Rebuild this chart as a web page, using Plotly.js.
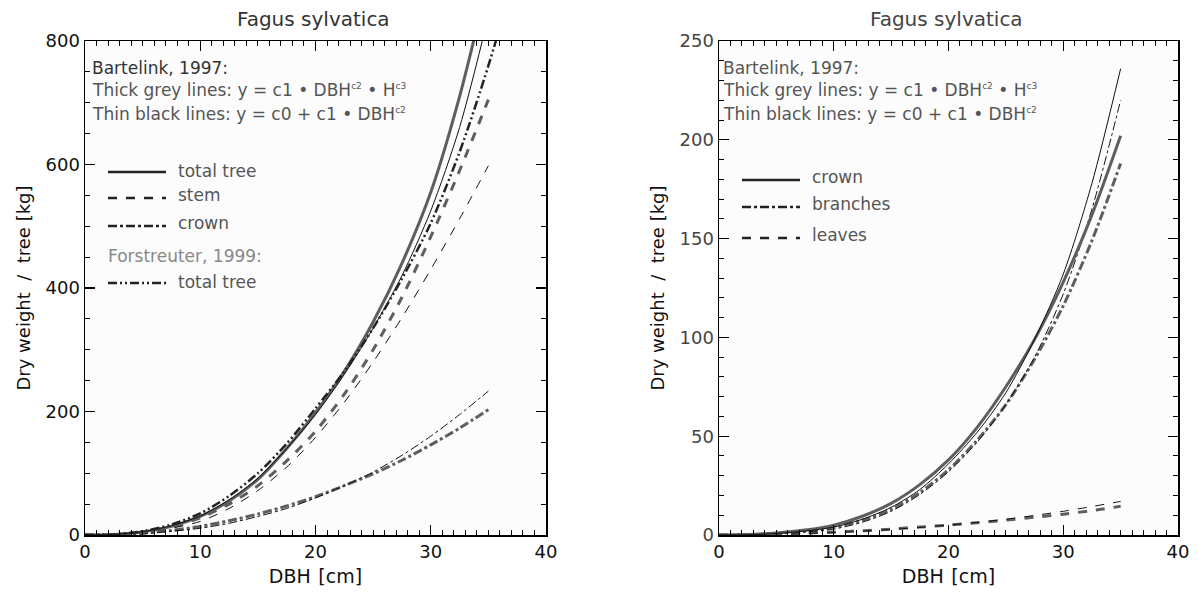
<!DOCTYPE html>
<html>
<head>
<meta charset="utf-8">
<script src="https://cdn.plot.ly/plotly-3.0.1.min.js"></script>
<style>html,body{margin:0;padding:0;background:#fff;}#chart{width:1199px;height:595px;}</style>
</head>
<body>
<div id="chart"></div>
<script>
// DBH values (cm)
const dbh = [0, 2.5, 5, 7.5, 10, 12.5, 15, 17.5, 20, 22.5, 25, 27.5, 30, 32.5, 35];
const dbhForst = [0, 2.5, 5, 7.5, 10, 12.5, 15, 17.5, 20, 22.5, 25, 27.5, 30, 32.5, 35, 37.5];

// Left panel: Bartelink 1997 (tree compartments), kg
const totalThick = [0, 0.8, 5, 14, 30, 55, 90, 140, 198, 265, 345, 440, 555, 710, 900];
const totalThin  = [0, 0.9, 5.5, 15, 31, 57, 92, 140, 195, 260, 335, 420, 525, 660, 840];
const stemThick  = [0, 0.6, 5, 13, 28, 50, 80, 120, 168, 228, 300, 385, 483, 590, 705];
const stemThin   = [0, 0.5, 4, 11, 22, 43, 72, 110, 158, 215, 280, 352, 430, 512, 598];
const crownThick = [0, 0.4, 3, 7.5, 14, 23, 34, 47, 62, 80, 99, 121, 146, 173, 203];
const crownThin  = [0, 0.3, 2, 6, 11, 19, 30, 43, 60, 80, 102, 129, 160, 195, 233];
// Forstreuter 1999 total tree
const forstTotal = [0, 1, 6, 17, 35, 63, 100, 148, 205, 265, 335, 415, 505, 620, 760, 920];

// Right panel: crown compartments, kg
const crownThinR    = [0, 0.1, 0.8, 2, 4, 8, 14, 23, 36, 52, 72, 99, 132, 178, 236];
const crownThickR   = [0, 0.2, 1, 2.5, 5, 9.5, 16, 25.5, 38, 54.5, 75, 99, 128, 162, 202];
const branchThinR   = [0, 0.1, 0.6, 1.5, 3, 6.5, 12, 20.5, 32, 47, 66, 90, 122, 165, 220];
const branchThickR  = [0, 0.1, 0.8, 2, 4, 7.5, 13, 21.5, 33, 48, 66, 89, 116, 149, 188];
const leavesThinR   = [0, 0.05, 0.3, 0.7, 1.2, 1.9, 2.8, 3.8, 5, 6.4, 8, 9.9, 12, 14.4, 17];
const leavesThickR  = [0, 0.08, 0.5, 1, 1.5, 2.2, 3, 4, 5, 6.2, 7.5, 9, 10.5, 12.4, 14.5];

// Tick values
const xTicks = [0, 10, 20, 30, 40];
const yTicksL = [0, 200, 400, 600, 800];
const yTicksR = [0, 50, 100, 150, 200, 250];

const THICK = {color: '#5e5e5e', width: 3};
const THIN = {color: '#111', width: 1};
const DDD = '9px,3px,2px,3px,2px,3px';

function tr(x, y, xa, ya, base, dash) {
  return {x: x, y: y, xaxis: xa, yaxis: ya, type: 'scatter', mode: 'lines',
    line: Object.assign({}, base, {dash: dash, shape: 'spline', smoothing: 0.8}),
    showlegend: false, hoverinfo: 'skip'};
}

const data = [
  tr(dbh, crownThick, 'x', 'y', THICK, 'dashdot'),
  tr(dbh, crownThin, 'x', 'y', THIN, 'dashdot'),
  tr(dbh, stemThick, 'x', 'y', THICK, 'dash'),
  tr(dbh, stemThin, 'x', 'y', THIN, 'dash'),
  tr(dbh, totalThick, 'x', 'y', THICK, 'solid'),
  tr(dbh, totalThin, 'x', 'y', THIN, 'solid'),
  tr(dbhForst, forstTotal, 'x', 'y', {color: '#222', width: 2.5}, DDD),
  tr(dbh, leavesThickR, 'x2', 'y2', THICK, 'dash'),
  tr(dbh, leavesThinR, 'x2', 'y2', THIN, 'dash'),
  tr(dbh, branchThickR, 'x2', 'y2', THICK, 'dashdot'),
  tr(dbh, branchThinR, 'x2', 'y2', THIN, 'dashdot'),
  tr(dbh, crownThickR, 'x2', 'y2', THICK, 'solid'),
  tr(dbh, crownThinR, 'x2', 'y2', THIN, 'solid')
];

const FONT = 'DejaVu Sans, Verdana, sans-serif';
function xax(domain, anchor) {
  return {domain: domain, anchor: anchor, range: [0, 40], tickvals: xTicks,
    ticks: 'inside', ticklen: 10, tickwidth: 1.3, tickcolor: '#000',
    minor: {dtick: 1, ticks: 'inside', ticklen: 5, tickwidth: 1, tickcolor: '#000'},
    showline: true, linecolor: '#000', linewidth: 1.5, mirror: 'ticks',
    showgrid: false, zeroline: false, fixedrange: true,
    tickfont: {family: FONT, size: 18, color: '#111'},
    title: {text: 'DBH&#8201;&#8201;[cm]', font: {family: FONT, size: 19, color: '#111'}, standoff: 8},
    automargin: false};
}
function yax(domain, anchor, range, ticks, minor, tcol) {
  return {domain: domain, anchor: anchor, range: range, tickvals: ticks,
    ticks: 'inside', ticklen: 10, tickwidth: 1.3, tickcolor: '#000',
    minor: {dtick: minor, ticks: 'inside', ticklen: 5, tickwidth: 1, tickcolor: '#000'},
    showline: true, linecolor: '#000', linewidth: 1.5, mirror: 'ticks',
    showgrid: false, zeroline: false, fixedrange: true,
    tickfont: {family: FONT, size: 18, color: tcol},
    title: {text: 'Dry weight  /  tree [kg]', font: {family: FONT, size: 18, color: '#111'}, standoff: 10},
    automargin: false};
}

const W = 1199, H = 595;
const px = v => v / W, py = v => 1 - v / H;
const yDom = [py(535), py(41)];

const annotations = [];
const shapes = [];
const TF = {family: FONT, size: 17, color: '#555'};
function txt(x, y, t, opts) {
  annotations.push(Object.assign({xref: 'paper', yref: 'paper', x: px(x), y: py(y), text: t,
    showarrow: false, xanchor: 'left', yanchor: 'middle', font: TF}, opts || {}));
}
function sample(x0, x1, y, dash, width, color) {
  shapes.push({type: 'line', xref: 'paper', yref: 'paper', x0: px(x0), x1: px(x1), y0: py(y), y1: py(y),
    line: {color: color || '#222', width: width || 2.5, dash: dash}});
}

const SUP2 = '<sup><span style="font-size:9px">c2</span></sup>';
const SUP3 = '<sup><span style="font-size:9px">c3</span></sup>';

// Titles
txt(313, 19, 'Fagus sylvatica', {xanchor: 'center', font: {family: FONT, size: 20, color: '#333'}});
txt(946, 19, 'Fagus sylvatica', {xanchor: 'center', font: {family: FONT, size: 20, color: '#444'}});

// Left panel text
txt(90, 68, 'Bartelink, 1997:', {font: {family: FONT, size: 17, color: '#333'}});
txt(90, 90, 'Thick grey lines: y = c1 • DBH' + SUP2 + ' • H' + SUP3);
txt(90, 114, 'Thin black lines: y = c0 + c1 • DBH' + SUP2);
sample(108, 166, 172, 'solid', 2.5);
txt(176, 171, 'total tree');
sample(108, 166, 198, 'dash', 2.5);
txt(176, 195, 'stem');
sample(108, 166, 226, 'dashdot', 2.5);
txt(176, 223, 'crown');
txt(106, 256, 'Forstreuter, 1999:', {font: {family: FONT, size: 17, color: '#888'}});
sample(108, 166, 283, DDD, 2.5);
txt(176, 282, 'total tree');

// Right panel text
txt(721, 68, 'Bartelink, 1997:');
txt(721, 90, 'Thick grey lines: y = c1 • DBH' + SUP2 + ' • H' + SUP3);
txt(721, 114, 'Thin black lines: y = c0 + c1 • DBH' + SUP2);
sample(742, 800, 180, 'solid', 2.5);
txt(810, 177, 'crown');
sample(742, 800, 207, 'dashdot', 2.5);
txt(810, 204, 'branches');
sample(742, 800, 238, 'dash', 2.5);
txt(810, 235, 'leaves');

const layout = {
  width: W, height: H,
  margin: {l: 0, r: 0, t: 0, b: 0},
  paper_bgcolor: '#fff', plot_bgcolor: '#fcfcfc',
  showlegend: false,
  xaxis: xax([px(85), px(546)], 'y'),
  yaxis: yax(yDom, 'x', [0, 800], yTicksL, 50, '#111'),
  xaxis2: xax([px(719), px(1178)], 'y2'),
  yaxis2: yax(yDom, 'x2', [0, 250], yTicksR, 10, '#444'),
  annotations: annotations,
  shapes: shapes
};

Plotly.newPlot('chart', data, layout, {staticPlot: true, displayModeBar: false});
</script>
</body>
</html>
